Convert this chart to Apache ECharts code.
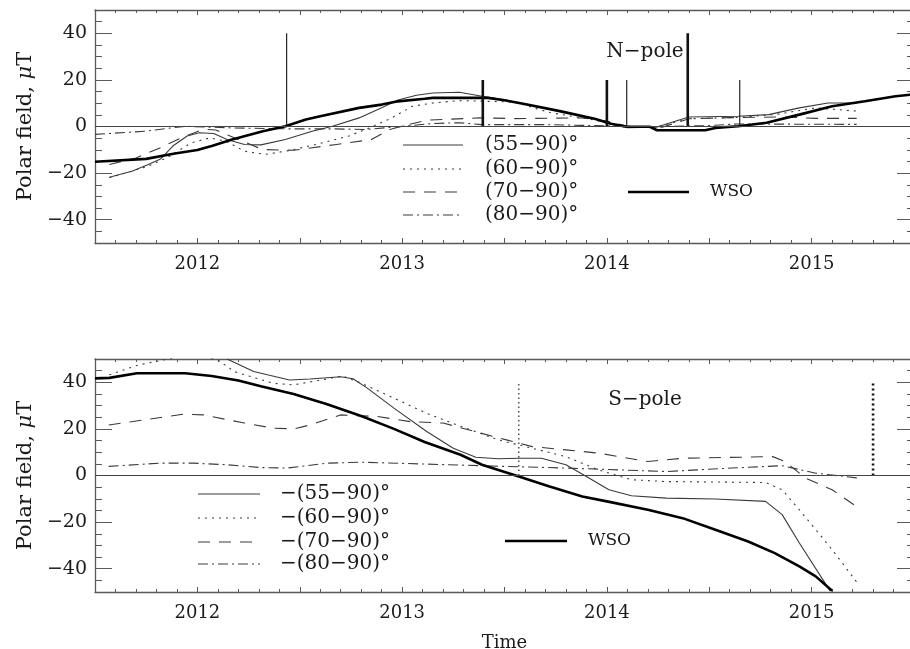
<!DOCTYPE html>
<html><head><meta charset="utf-8">
<script src="https://cdn.jsdelivr.net/npm/echarts@6/dist/echarts.min.js"></script>
<style>html,body{margin:0;padding:0;background:#fff}#c{width:910px;height:649px}</style>
</head><body><div id="c"></div>
<script>
// ---------- data ----------
const xTickLabels = [2012, 2013, 2014, 2015];
const yTickLabels = [-40, -20, 0, 20, 40];

// North pole
const n55 = [[2011.57,-21.8],[2011.68,-19.2],[2011.76,-16.3],[2011.82,-14],[2011.88,-8.4],[2011.95,-4.1],[2012.01,-2.7],[2012.08,-3],[2012.145,-5.6],[2012.23,-7.7],[2012.31,-7.9],[2012.43,-5.6],[2012.56,-2],[2012.66,0.1],[2012.79,3.7],[2012.9,8],[2012.98,11.4],[2013.07,13.4],[2013.15,14.4],[2013.28,14.7],[2013.39,13],[2013.5,11.5],[2013.61,9.4],[2013.77,6.6],[2013.94,3.3],[2014.02,1.0],[2014.1,-0.5],[2014.24,-0.3],[2014.4,4.1],[2014.64,4.4],[2014.79,5.1],[2014.94,8],[2015.08,10.1],[2015.22,10.1]];
const n60 = [[2011.57,-22],[2011.76,-17],[2011.86,-13],[2011.97,-7],[2012.06,-4.9],[2012.14,-6.3],[2012.23,-10.6],[2012.33,-12],[2012.45,-10.3],[2012.58,-7.7],[2012.74,-4.1],[2012.84,-0.6],[2012.95,3.7],[2013.05,8.7],[2013.15,10.1],[2013.28,11.1],[2013.55,10.5],[2013.72,6],[2013.94,2.8],[2014.02,1],[2014.1,-0.3],[2014.24,-0.3],[2014.4,3.3],[2014.64,3.9],[2014.82,5.1],[2015.02,8],[2015.22,6.6]];
const n70 = [[2011.57,-16.3],[2011.7,-13.5],[2011.82,-9.1],[2011.93,-4.5],[2012.03,-1.2],[2012.09,-1.5],[2012.2,-5.6],[2012.32,-9.9],[2012.47,-10.2],[2012.68,-7.7],[2012.85,-5.6],[2012.94,-1.3],[2013.01,0.4],[2013.12,2.7],[2013.38,3.7],[2013.55,3.4],[2013.88,3.7],[2014.0,2.3],[2014.1,0.1],[2014.27,-0.3],[2014.4,3.3],[2014.6,3.8],[2014.86,4.1],[2015.02,3.5],[2015.22,3.5]];
const n80 = [[2011.5,-3.4],[2011.75,-2],[2011.94,0.1],[2012.17,-0.6],[2012.43,-1],[2012.66,-1],[2012.82,-1.3],[2012.98,-0.1],[2013.15,1.3],[2013.28,1.6],[2013.39,0.8],[2013.7,0.8],[2014.0,0.3],[2014.1,-0.2],[2014.3,0],[2014.5,0.4],[2014.64,1.1],[2014.9,1.0],[2015.22,0.9]];
const nWSO = [[2011.5,-15.1],[2011.75,-13.9],[2011.89,-11.6],[2012.0,-10.1],[2012.07,-8.4],[2012.17,-5.6],[2012.32,-2.0],[2012.43,0.1],[2012.53,3.0],[2012.6,4.4],[2012.79,8.0],[2012.9,9.4],[2012.98,10.8],[2013.11,11.9],[2013.15,12.3],[2013.42,12.3],[2013.5,11.3],[2013.61,9.4],[2013.77,6.6],[2013.94,3.3],[2014.02,1.2],[2014.1,-0.1],[2014.21,-0.1],[2014.245,-1.6],[2014.48,-1.6],[2014.53,-0.6],[2014.64,0.1],[2014.78,1.6],[2014.94,5.1],[2015.1,8.7],[2015.26,10.8],[2015.41,13.0],[2015.5,13.8]];
const nSpikesThin = [[2012.436,40],[2014.097,20],[2014.649,20]];
const nSpikesThick = [[2013.394,20],[2014.0,20],[2014.395,40]];

// South pole
const s55 = [[2012.145,50],[2012.275,44.6],[2012.45,41],[2012.55,41.4],[2012.7,42.4],[2012.76,41.5],[2012.83,37.5],[2012.96,28.9],[2013.12,18.9],[2013.25,11.7],[2013.36,7.8],[2013.47,7.2],[2013.57,7.4],[2013.68,7.4],[2013.8,4.6],[2013.9,-0.4],[2014.01,-6.1],[2014.12,-8.7],[2014.29,-9.7],[2014.53,-10.1],[2014.775,-11.1],[2014.856,-16.8],[2014.94,-29],[2015.09,-49.5]];
const s60 = [[2011.57,43.2],[2011.71,47.4],[2011.86,50],[2011.98,52],[2012.1,49.6],[2012.18,44.6],[2012.37,39.6],[2012.47,38.9],[2012.63,41.4],[2012.71,42.7],[2012.8,39.6],[2012.96,33.2],[2013.12,26.7],[2013.29,21],[2013.47,15.3],[2013.635,11.7],[2013.8,8.1],[2013.96,2.4],[2014.12,-1.8],[2014.29,-2.6],[2014.775,-3],[2014.856,-6.1],[2014.94,-14.7],[2015.1,-31.8],[2015.23,-46.9]];
const s70 = [[2011.567,21.7],[2011.74,23.9],[2011.93,26.3],[2012.03,26],[2012.23,22.5],[2012.37,20.3],[2012.47,20],[2012.55,21.7],[2012.7,26],[2012.88,25.3],[2013.04,23.1],[2013.2,22.5],[2013.35,19],[2013.5,15.5],[2013.635,12.4],[2013.8,11],[2013.96,9.6],[2014.2,6],[2014.37,7.4],[2014.81,8.1],[2014.87,6],[2014.97,-1.1],[2015.1,-6.1],[2015.23,-14]];
const s80 = [[2011.567,3.9],[2011.82,5.3],[2011.98,5.3],[2012.145,4.6],[2012.31,3.4],[2012.44,3.2],[2012.63,5.3],[2012.8,5.7],[2013.12,4.9],[2013.5,3.9],[2013.8,3.2],[2014.29,1.7],[2014.61,3.2],[2014.856,4.2],[2015.02,1],[2015.23,-1.1]];
const sWSO = [[2011.5,41.7],[2011.57,41.9],[2011.705,43.9],[2011.94,43.9],[2012.07,42.7],[2012.2,40.8],[2012.31,38.3],[2012.47,35],[2012.63,30.7],[2012.8,25.5],[2012.96,20],[2013.11,14.4],[2013.285,8.9],[2013.39,4.6],[2013.57,-0.4],[2013.72,-4.7],[2013.88,-9],[2014.0,-11.1],[2014.2,-14.7],[2014.37,-18.3],[2014.53,-23.3],[2014.69,-28.3],[2014.82,-33.3],[2014.94,-39],[2015.02,-43.3],[2015.1,-49.5]];
const sSpikesThin = [[2013.57,40]];
const sSpikesThick = [[2015.30,40]];

const nLegend = ['(55−90)°','(60−90)°','(70−90)°','(80−90)°'];
const sLegend = ['−(55−90)°','−(60−90)°','−(70−90)°','−(80−90)°'];

// ---------- styling ----------
const FONT = '"DejaVu Serif", "Liberation Serif", serif';
const TXT = '#1a1a1a';
const AX = '#5a5a5a';
const THIN = '#3a3a3a';
const dashes = ['solid', [2,5], [12,9], [10,4,2,4]];
const XMIN = 2011.5, XMAX = 2015.5, YMIN = -50, YMAX = 50;

const grids = [
  {left: 95, right: -4, top: 10, height: 233, outerBoundsMode: 'none', containLabel: false},
  {left: 95, right: -4, top: 359, height: 233, outerBoundsMode: 'none', containLabel: false}
];

const xAxes = [], yAxes = [];
[0,1].forEach(g => {
  ['bottom','top'].forEach(pos => {
    xAxes.push({
      type: 'value', gridIndex: g, position: pos, min: XMIN, max: XMAX, interval: 0.5,
      axisLine: {show: true, onZero: false, lineStyle: {color: AX, width: 1.3}},
      axisTick: {show: true, inside: true, length: 5, lineStyle: {color: AX, width: 1}},
      minorTick: {show: true, splitNumber: 5, length: 3, lineStyle: {color: AX, width: 1}},
      splitLine: {show: false},
      axisLabel: {show: pos === 'bottom', margin: 12, fontFamily: FONT, fontSize: 18, color: TXT,
        formatter: v => (Math.abs(v - Math.round(v)) < 1e-6 && xTickLabels.includes(Math.round(v))) ? String(Math.round(v)) : ''},
      name: (g === 1 && pos === 'bottom') ? 'Time' : '',
      nameLocation: 'middle', nameGap: 42,
      nameTextStyle: {fontFamily: FONT, fontSize: 18, color: TXT}
    });
  });
  ['left','right'].forEach(pos => {
    yAxes.push({
      type: 'value', gridIndex: g, position: pos, min: YMIN, max: YMAX, interval: 5,
      axisLine: {show: true, onZero: false, lineStyle: {color: AX, width: 1.3}},
      axisTick: {show: true, inside: true, length: 7, lineStyle: {color: AX, width: 1}},
      splitLine: {show: false}, axisLabel: {show: false}
    });
    yAxes.push({
      type: 'value', gridIndex: g, position: pos, min: YMIN, max: YMAX, interval: 10,
      axisLine: {show: false, onZero: false},
      axisTick: {show: true, inside: true, length: 17, customValues: yTickLabels, lineStyle: {color: AX, width: 1}},
      splitLine: {show: false},
      axisLabel: {show: pos === 'left', customValues: yTickLabels, margin: 8, fontFamily: FONT, fontSize: 19, color: TXT,
        formatter: v => String(v).replace('-', '−')},
      name: pos === 'left' ? '{a|Polar field, }{b|μ}{a|T}' : '',
      nameLocation: 'middle', nameRotate: 90, nameGap: 59,
      nameTextStyle: {rich: {a: {fontFamily: FONT, fontSize: 21, color: TXT}, b: {fontFamily: FONT, fontSize: 21, fontStyle: 'italic', color: TXT}}}
    });
  });
});

function lineSeries(data, g, styleIdx, width, color) {
  return {
    type: 'line', xAxisIndex: g * 2, yAxisIndex: g * 4 + 1, data: data,
    showSymbol: false, symbol: 'none', clip: true, silent: true, animation: false,
    lineStyle: {color: color, width: width, type: dashes[styleIdx]}
  };
}
function spikeSeries(spikes, g, width, type) {
  return spikes.map(s => ({
    type: 'line', xAxisIndex: g * 2, yAxisIndex: g * 4 + 1, data: [[s[0], 0], [s[0], s[1]]],
    showSymbol: false, symbol: 'none', silent: true, animation: false,
    lineStyle: {color: '#111', width: width, type: type}
  }));
}

const series = [];
[[n55,n60,n70,n80,nWSO,0],[s55,s60,s70,s80,sWSO,1]].forEach(set => {
  const g = set[5];
  for (let i = 0; i < 4; i++) series.push(lineSeries(set[i], g, i, 1.1, THIN));
  const w = lineSeries(set[4], g, 0, 2.6, '#000');
  w.markLine = {silent: true, symbol: 'none', animation: false, label: {show: false},
    lineStyle: {color: '#444', width: 1, type: 'solid'}, data: [{yAxis: 0}]};
  series.push(w);
});
series.push(...spikeSeries(nSpikesThin, 0, 1.1, 'solid'));
series.push(...spikeSeries(nSpikesThick, 0, 2.6, 'solid'));
series.push(...spikeSeries(sSpikesThin, 1, 1.1, [1.5,3]));
series.push(...spikeSeries(sSpikesThick, 1, 2.6, [2,3]));

const graphic = [];
function legendBlock(labels, x1, x2, tx, ys, wsoX1, wsoX2, wsoTx, wsoY) {
  labels.forEach((t, i) => {
    graphic.push({type: 'line', silent: true, shape: {x1: x1, y1: ys[i], x2: x2, y2: ys[i]},
      style: {stroke: THIN, lineWidth: 1.1, lineDash: i === 0 ? null : dashes[i]}});
    graphic.push({type: 'text', silent: true, x: tx, y: ys[i],
      style: {text: t, fontFamily: FONT, fontSize: 20, fill: TXT, verticalAlign: 'middle', align: 'left'}});
  });
  graphic.push({type: 'line', silent: true, shape: {x1: wsoX1, y1: wsoY, x2: wsoX2, y2: wsoY},
    style: {stroke: '#000', lineWidth: 2.6}});
  graphic.push({type: 'text', silent: true, x: wsoTx, y: wsoY,
    style: {text: 'WSO', fontFamily: FONT, fontSize: 17, fill: TXT, verticalAlign: 'middle', align: 'left'}});
}
legendBlock(nLegend, 403, 463, 485, [145,169,192,215], 628, 689, 710, 192);
legendBlock(sLegend, 198, 260, 280, [494,518,542,564], 505, 567, 588, 541);
graphic.push({type: 'text', silent: true, x: 645, y: 52,
  style: {text: 'N−pole', fontFamily: FONT, fontSize: 20, fill: TXT, verticalAlign: 'middle', align: 'center'}});
graphic.push({type: 'text', silent: true, x: 645, y: 400,
  style: {text: 'S−pole', fontFamily: FONT, fontSize: 20, fill: TXT, verticalAlign: 'middle', align: 'center'}});

const chart = echarts.init(document.getElementById('c'), null, {renderer: 'canvas'});
chart.setOption({
  backgroundColor: '#fff', animation: false,
  grid: grids, xAxis: xAxes, yAxis: yAxes, series: series, graphic: graphic
});
</script>
</body></html>
